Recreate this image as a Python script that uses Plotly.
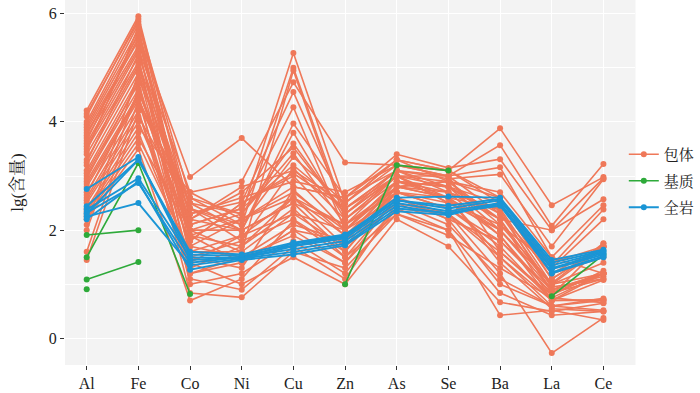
import plotly.graph_objects as go

elements = ["Al", "Fe", "Co", "Ni", "Cu", "Zn", "As", "Se", "Ba", "La", "Ce"]
y_ticks = [0, 2, 4, 6]

N = None
# 包体 (inclusions)
inclusion = [
    [4.21, 5.95, 2.2, 2.0, 2.5, 2.1, 3.0, 2.8, 2.2, 0.9, 1.2],
    [4.15, 5.85, 2.6, 2.3, 5.27, 2.5, 3.3, 3.1, 3.88, 2.46, 2.98],
    [4.1, 5.9, 1.8, 2.5, 3.0, 2.0, 2.9, 2.6, 1.5, 0.7, 0.7],
    [4.0, 5.8, 2.4, 2.1, 5.0, 2.3, 3.1, 3.0, 3.57, 2.08, 3.22],
    [3.95, 5.7, 1.5, 1.8, 2.2, 1.6, 2.7, 2.4, 1.8, 0.84, 1.1],
    [3.9, 5.6, 2.98, 3.7, 2.8, 2.6, 3.4, 3.15, 3.31, 2.0, 2.57],
    [3.85, 5.5, 2.0, 1.6, 4.95, 2.2, 3.0, 2.9, 2.1, 1.02, 1.76],
    [3.8, 5.4, 1.2, 1.4, 2.0, 1.4, 2.6, 2.2, 1.0, 0.6, 0.74],
    [3.7, 5.35, 2.7, 2.9, 4.73, 3.25, 3.2, 3.0, 3.16, 1.5, 2.46],
    [3.6, 5.3, 1.9, 2.2, 2.6, 1.9, 2.8, 2.7, 2.37, 0.84, 1.2],
    [3.55, 5.2, 1.0, 1.2, 1.8, 1.2, 2.4, 2.0, 0.84, 0.43, 0.5],
    [3.5, 5.1, 2.3, 2.52, 4.55, 2.4, 3.1, 2.95, 3.03, 1.7, 2.94],
    [3.4, 5.05, 1.6, 1.9, 2.3, 1.7, 2.5, 2.3, 1.2, -0.27, 0.38],
    [3.3, 5.0, 2.1, 2.4, 4.27, 2.0, 2.9, 2.8, 2.5, 1.1, 1.69],
    [3.2, 4.9, 1.4, 1.0, 1.5, 1.0, 2.2, 1.7, 0.67, 0.5, 0.65],
    [3.1, 4.8, 2.5, 2.0, 3.97, 2.6, 3.3, 3.1, 2.6, 1.3, 2.2],
    [3.05, 4.7, 1.7, 1.5, 2.1, 1.8, 2.7, 2.5, 2.0, 0.9, 1.15],
    [3.0, 4.6, 2.2, 2.7, 3.53, 2.3, 3.0, 2.6, 2.4, 1.0, 1.7],
    [2.9, 4.5, 0.84, 0.76, 1.6, 1.3, 2.3, 2.0, 0.43, 0.52, 0.34],
    [2.85, 4.45, 2.0, 2.3, 3.42, 2.1, 2.8, 2.9, 2.2, 0.7, 1.08],
    [2.8, 4.4, 1.3, 1.7, 2.4, 1.5, 2.6, 2.3, 1.6, 0.75, 1.2],
    [2.7, 4.3, 2.6, 2.1, 3.35, 2.5, 3.2, 3.0, 2.3, 1.2, 1.5],
    [2.6, 4.2, 1.1, 0.9, 1.7, 1.1, 2.5, 2.1, 1.1, 0.6, 0.7],
    [2.55, 4.1, 2.4, 1.8, 3.14, 2.2, 2.9, 2.7, 1.9, 0.8, 1.25],
    [2.5, 4.0, 1.8, 2.5, 3.05, 2.4, 3.0, 2.5, 2.1, 1.35, 2.38],
    [2.4, 3.9, 2.7, 2.2, 2.8, 2.6, 3.1, 2.8, 2.3, 0.95, 1.1],
    [2.35, 3.8, 1.5, 1.3, 2.74, 1.9, 2.7, 2.4, 1.7, 0.7, 0.72],
    [2.3, 3.7, 2.0, 2.0, 2.5, 1.6, 2.8, 2.6, 1.4, 0.55, 0.5],
    [2.25, 3.6, 1.6, 1.6, 2.31, 2.0, 2.6, 2.2, 1.8, 0.9, 1.2],
    [2.2, 3.5, 0.7, 1.1, 2.18, 1.5, 2.3, 1.9, 1.3, 0.75, 0.66],
    [2.1, 4.9, 2.3, 2.6, 2.9, 2.7, 3.2, 3.1, 2.5, 1.1, 1.7],
    [2.0, 4.6, 1.9, 1.4, 2.0, 1.8, 2.9, 2.8, 2.0, 1.0, 1.4],
    [1.6, 4.4, 2.5, 2.3, 3.6, 2.3, 3.0, 2.5, 2.45, 1.4, 1.7],
    [1.45, 4.2, 1.4, 1.9, 2.6, 2.1, 2.7, 2.6, 1.9, 0.7, 1.2],
    [3.75, 5.55, 2.1, 2.4, 3.2, 2.4, 3.1, 2.7, 2.2, 2.0, 2.96],
    [3.45, 5.75, 1.7, 2.2, 2.7, 2.0, 2.8, 2.9, 2.7, 1.5, 1.2],
    [3.25, 5.25, 2.4, 2.0, 3.8, 2.2, 3.0, 3.0, 1.6, 0.8, 1.75],
    [2.95, 4.75, 1.2, 1.5, 1.9, 1.4, 2.4, 2.3, 1.5, 0.6, 0.52],
    [2.65, 4.55, 2.2, 2.8, 3.1, 2.5, 3.3, 2.9, 2.6, 1.2, 1.7],
    [3.65, 5.65, 1.9, 1.7, 2.6, 1.7, 2.8, 2.6, 2.0, 1.0, 1.2],
]

# 基质 (matrix)
matrix = [
    [1.91, 2.0, N, N, N, N, N, N, N, N, N],
    [1.09, 1.41, N, N, N, N, N, N, N, N, N],
    [1.5, 3.24, 0.82, N, N, N, N, N, N, N, N],
    [N, N, N, N, N, 1.0, 3.2, 3.1, N, N, N],
    [N, N, N, N, N, N, N, N, N, 0.78, 1.55],
    [0.91, N, N, N, N, N, N, N, N, N, N],
]

# 全岩 (whole rock)
whole_rock = [
    [2.76, 3.35, 1.45, 1.5, 1.75, 1.9, 2.6, 2.62, 2.6, 1.45, 1.64],
    [2.44, 3.3, 1.55, 1.52, 1.72, 1.88, 2.55, 2.4, 2.55, 1.35, 1.6],
    [2.38, 2.96, 1.5, 1.48, 1.7, 1.85, 2.5, 2.35, 2.5, 1.3, 1.58],
    [2.32, 2.87, 1.4, 1.5, 1.65, 1.8, 2.45, 2.3, 2.48, 1.28, 1.55],
    [2.25, 2.5, 1.35, 1.47, 1.6, 1.75, 2.4, 2.32, 2.45, 1.22, 1.52],
    [2.2, 2.9, 1.27, 1.45, 1.55, 1.72, 2.35, 2.28, 2.5, 1.2, 1.5],
    [2.3, 3.3, 1.6, 1.55, 1.77, 1.92, 2.55, 2.45, 2.58, 1.4, 1.62],
]

groups = [
    ("包体", inclusion, "#EF7859", 1.6),
    ("基质", matrix, "#2EAA3A", 1.6),
    ("全岩", whole_rock, "#1A95D5", 1.9),
]

fig = go.Figure()
for name, rows, color, lw in groups:
    for i, row in enumerate(rows):
        fig.add_trace(go.Scatter(
            x=elements, y=row, mode="lines+markers", name=name,
            legendgroup=name, showlegend=(i == 0),
            line=dict(color=color, width=lw),
            marker=dict(color=color, size=6),
            connectgaps=False,
        ))

serif = "Liberation Serif, Times New Roman, serif"
cjk = "Liberation Serif, Noto Serif CJK SC, Noto Sans CJK SC, serif"
# plot area spans from 65px to 700px; panel occupies 65..640px
fig.update_layout(
    width=700, height=393,
    margin=dict(l=65, r=0, t=0, b=28),
    paper_bgcolor="white", plot_bgcolor="#F3F3F3",
    font=dict(family=serif, size=16, color="#222222"),
    legend=dict(x=0.887, y=0.504, xanchor="left", yanchor="middle",
                font=dict(family=cjk, size=15, color="#222222"),
                tracegroupgap=4, itemwidth=30, bgcolor="rgba(0,0,0,0)"),
    xaxis=dict(domain=[0, 0.9055], categoryorder="array", categoryarray=elements,
               range=[-0.42, 10.62], showgrid=True, gridcolor="white", gridwidth=1.2,
               zeroline=False, ticks="outside", ticklen=4, tickcolor="#333333",
               tickfont=dict(family=serif, size=16, color="#222222"), showline=False),
    yaxis=dict(range=[-0.49, 6.25], tickvals=y_ticks, showgrid=True, gridcolor="white",
               gridwidth=1.2, zeroline=False, ticks="outside", ticklen=4, tickcolor="#333333",
               tickfont=dict(family=serif, size=16, color="#222222"),
               minor=dict(dtick=1, tick0=1, showgrid=True, gridcolor="white", gridwidth=0.6),
               title=dict(text="lg(含量)", font=dict(family=cjk, size=17, color="#222222"), standoff=20)),
)

fig.write_html("out.html", config={"displayModeBar": False},
               post_script="document.body.style.margin='0px';document.body.style.overflow='hidden';")
